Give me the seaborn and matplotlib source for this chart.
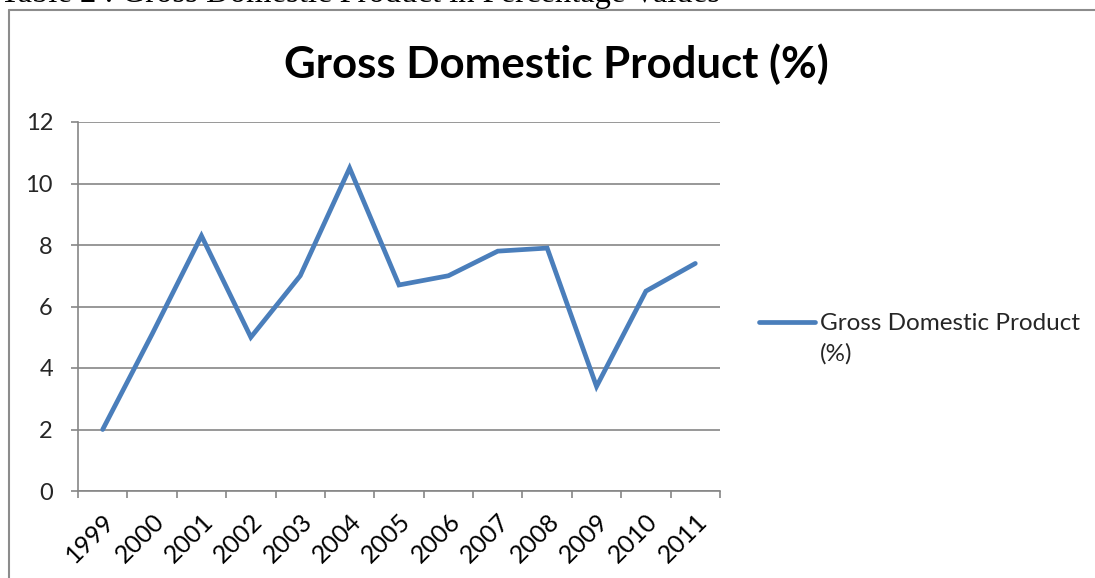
import matplotlib
matplotlib.use("Agg")
import matplotlib.pyplot as plt
import seaborn as sns
import pandas as pd
import numpy as np
from matplotlib.lines import Line2D
from matplotlib.offsetbox import HPacker

years = ["1999", "2000", "2001", "2002", "2003", "2004", "2005",
         "2006", "2007", "2008", "2009", "2010", "2011"]
gdp = [2.0, 5.1, 8.3, 5.0, 7.0, 10.5, 6.7, 7.0, 7.8, 7.9, 3.4, 6.5, 7.4]
series_label = "Gross Domestic Product\n(%)"
title = "Gross Domestic Product (%)"
caption = "Table 2 : Gross Domestic Product in Percentage Values"
yticks = [0, 2, 4, 6, 8, 10, 12]

sns.set_theme(style="white")
plt.rcParams['font.family'] = ['Lato', 'DejaVu Sans']

W, H = 1095, 578
fig = plt.figure(figsize=(W / 100, H / 100), dpi=100)
ax = fig.add_axes([78 / W, 1 - 491 / H, (720 - 78) / W, (491 - 122) / H])

df = pd.DataFrame({"year": years, "value": gdp})
sns.lineplot(data=df, x="year", y="value", ax=ax, color="#4A7EBB",
             linewidth=3.4, label=series_label, sort=False,
             solid_joinstyle="miter", solid_capstyle="round")

grid_c = "#868686"
ax.set_xlim(-0.5, len(years) - 0.5)
ax.set_ylim(0, 12)
ax.set_yticks(yticks)
ax.set_yticklabels([str(v) for v in yticks])
ax.yaxis.grid(True, color=grid_c, linewidth=1.2)
ax.xaxis.grid(False)
ax.set_axisbelow(True)
ax.set_xticks(range(len(years)))
ax.set_xticklabels(years, rotation=45, ha="right", rotation_mode="anchor")
ax.set_xticks(np.arange(-0.5, len(years)), minor=True)
ax.tick_params(axis="x", which="major", length=0, pad=13, labelsize=18, colors="black")
ax.tick_params(axis="x", which="minor", length=5, width=1.2, color=grid_c, direction="out", bottom=True)
ax.tick_params(axis="y", length=5, width=1.2, color=grid_c, direction="out", left=True, labelsize=17, pad=13)
ax.set_xlabel("")
ax.set_ylabel("")
for s in ["top", "right"]:
    ax.spines[s].set_visible(False)
for s in ["left", "bottom"]:
    ax.spines[s].set_color(grid_c)
    ax.spines[s].set_linewidth(1.2)

ax.legend_.remove()
handles, labels = ax.get_legend_handles_labels()
leg = fig.legend(handles, labels, loc="upper left",
                 bbox_to_anchor=(759 / W, 1 - 313 / H), frameon=False,
                 fontsize=17.5, handlelength=2.3, handletextpad=0.2,
                 borderaxespad=0, borderpad=0)
for t in leg.get_texts():
    t.set_linespacing(1.5)


def _set_align(box):
    for c in box.get_children():
        if isinstance(c, HPacker):
            c.align = "top"
        if hasattr(c, "get_children"):
            _set_align(c)


try:
    _set_align(leg._legend_box)
except Exception:
    pass

fig.text(556 / W, 1 - 78 / H, title, ha="center", va="baseline",
         fontsize=31.5, fontweight="bold", color="black")

fig.text(0, 1 - 2 / H, caption, ha="left", va="baseline",
         fontsize=23.5, family=["Liberation Serif", "DejaVu Serif"], color="black")

fc = "#8C8C8C"
fig.add_artist(Line2D([9 / W, 1.0], [1 - 10 / H, 1 - 10 / H], transform=fig.transFigure,
                      color=fc, linewidth=1.5))
fig.add_artist(Line2D([9 / W, 9 / W], [1 - 10 / H, 0], transform=fig.transFigure,
                      color=fc, linewidth=1.5))

fig.savefig("out.png", dpi=100)
